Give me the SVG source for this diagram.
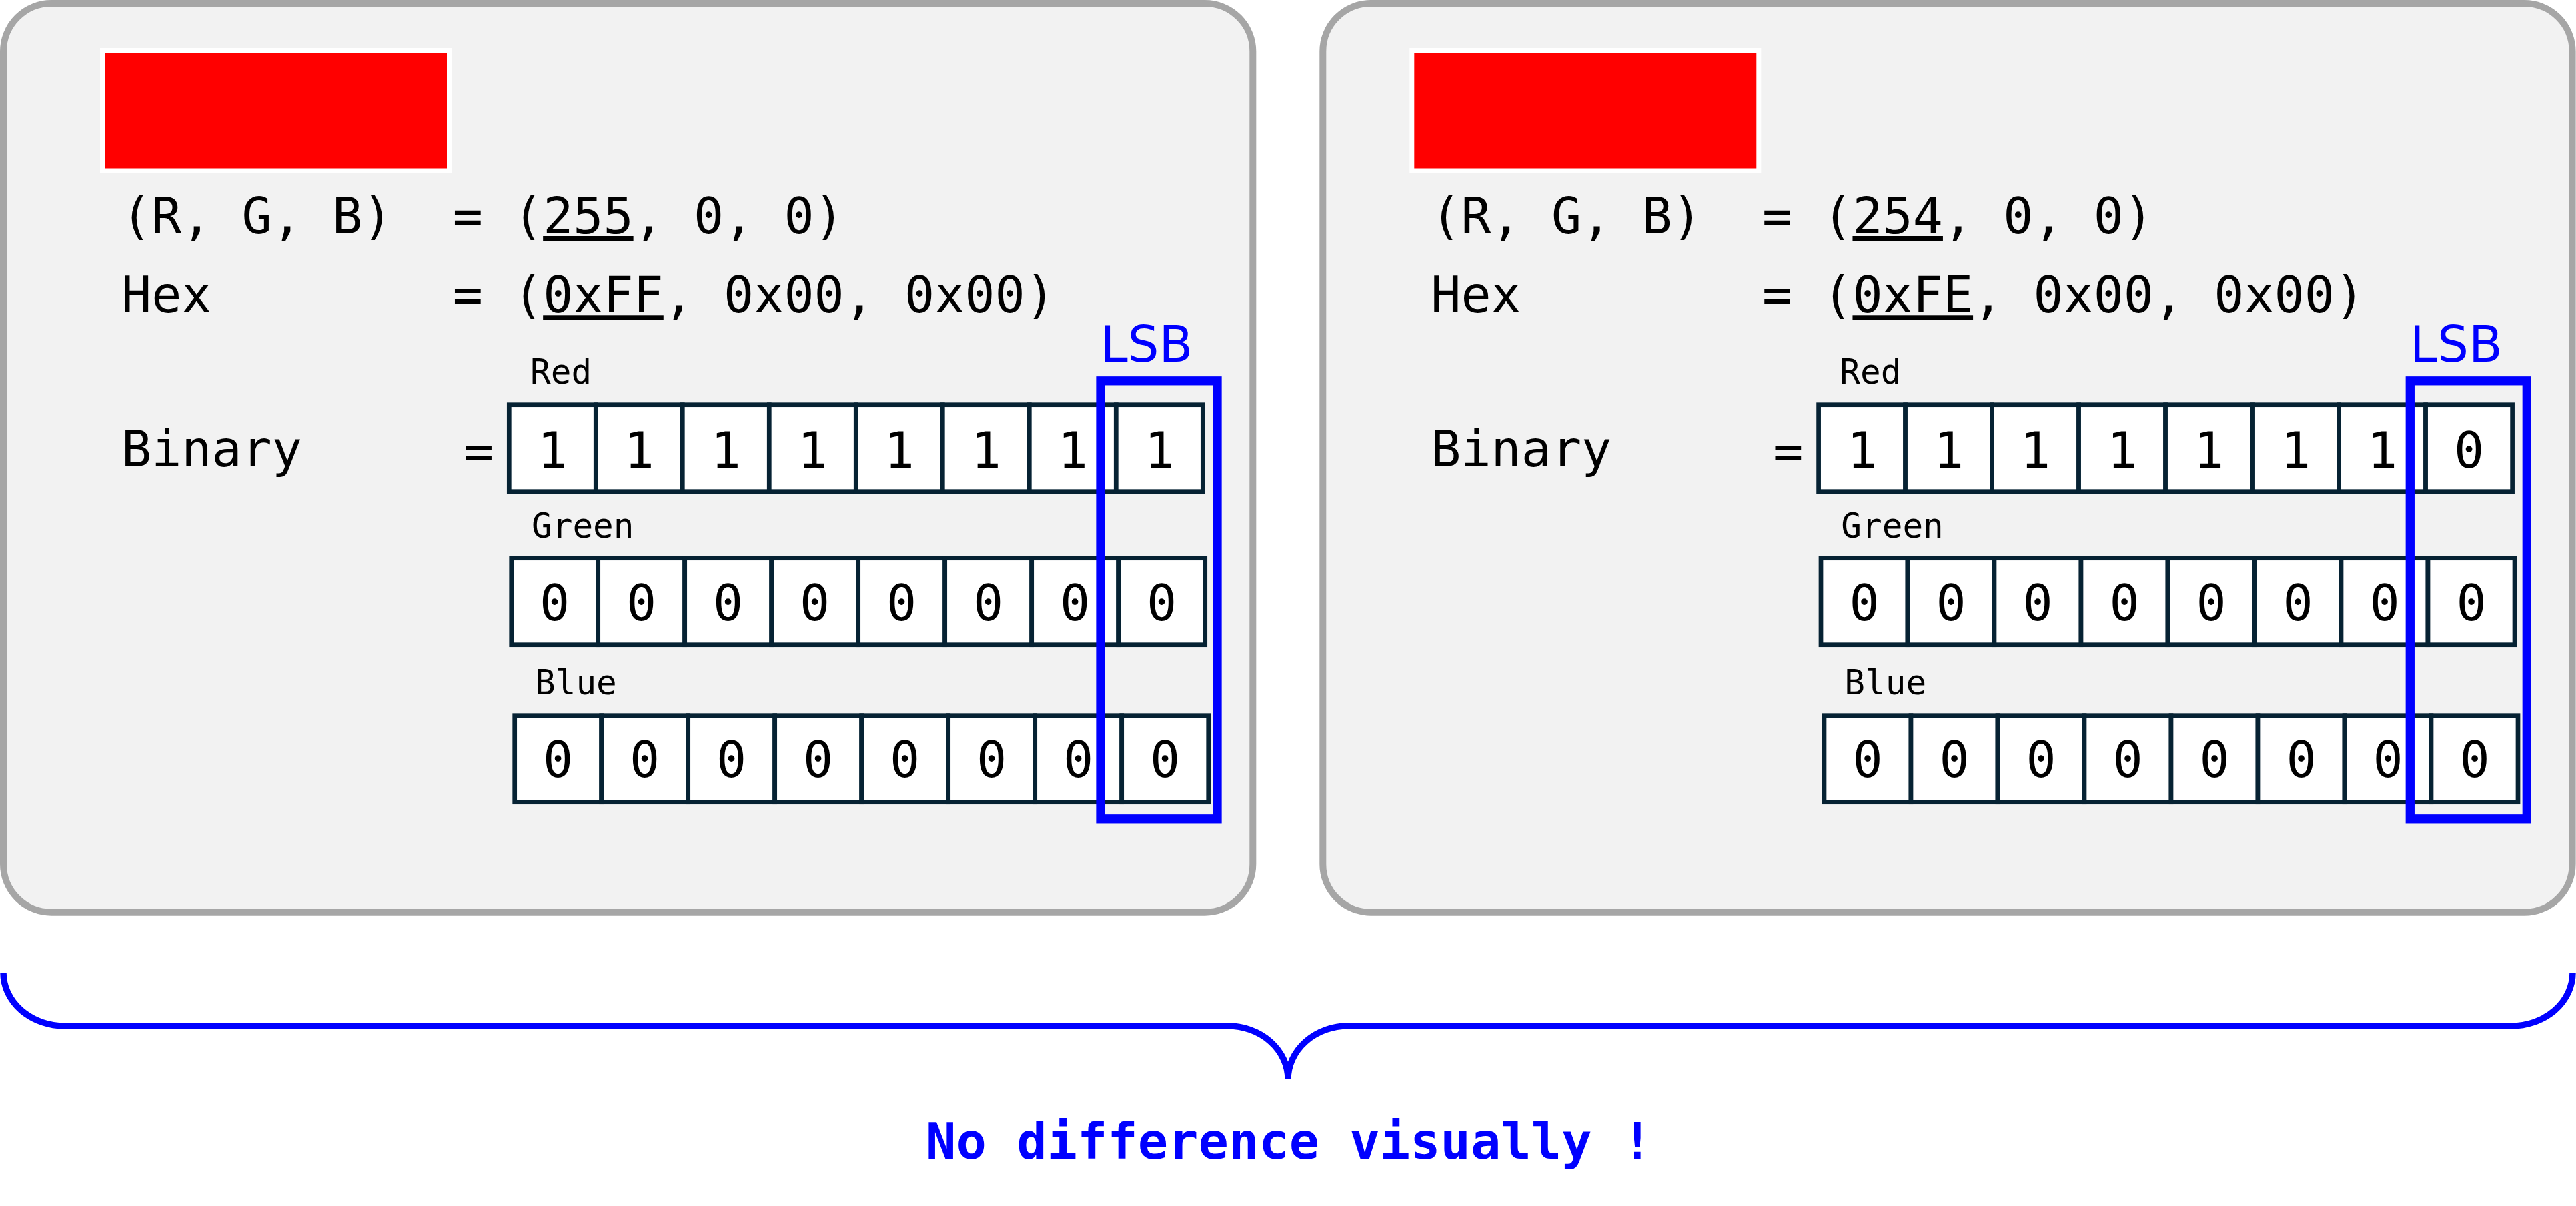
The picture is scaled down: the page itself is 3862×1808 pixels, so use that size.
<svg xmlns="http://www.w3.org/2000/svg" width="3862" height="1808" viewBox="0 0 3862 1808">
<style>
.panel{fill:#f2f2f2;stroke:#a6a6a6;stroke-width:10}
.swatch{fill:#ff0000;stroke:#ffffff;stroke-width:7}
.mono{font-family:"DejaVu Sans Mono","Liberation Mono",monospace;font-size:75px;fill:#000000}
.lbl{font-family:"DejaVu Sans Mono","Liberation Mono",monospace;font-size:51px;fill:#000000}
.u{text-decoration:underline}
.cell{fill:#ffffff;stroke:#062233;stroke-width:6.7}
.bit{font-family:"DejaVu Sans Mono","Liberation Mono",monospace;font-size:75px;fill:#000000;text-anchor:middle}
.lsb{fill:none;stroke:#0000ff;stroke-width:13.3}
.lsbt{font-family:"DejaVu Sans","Liberation Sans",sans-serif;font-size:74px;fill:#0000ff}
.brace{fill:none;stroke:#0000ff;stroke-width:9.5}
.note{font-family:"DejaVu Sans Mono","Liberation Mono",monospace;font-size:75.4px;font-weight:bold;fill:#0000ff}
</style>
<defs>
<g id="row">
<rect class="cell" x="0" y="0" width="130" height="130"/>
<rect class="cell" x="130" y="0" width="130" height="130"/>
<rect class="cell" x="260" y="0" width="130" height="130"/>
<rect class="cell" x="390" y="0" width="130" height="130"/>
<rect class="cell" x="520" y="0" width="130" height="130"/>
<rect class="cell" x="650" y="0" width="130" height="130"/>
<rect class="cell" x="780" y="0" width="130" height="130"/>
<rect class="cell" x="910" y="0" width="130" height="130"/>
</g>
</defs>

<g id="panel-left">
<rect class="panel" x="5" y="5" width="1873.3" height="1362.7" rx="72" ry="72"/>
<rect class="swatch" x="153.5" y="75.5" width="520" height="180.5"/>
<text class="mono" x="182" y="350">(R, G, B)<tspan x="678.7">= (<tspan class="u">255</tspan>, 0, 0)</tspan></text>
<text class="mono" x="182" y="468.3">Hex<tspan x="678.7">= (<tspan class="u">0xFF</tspan>, 0x00, 0x00)</tspan></text>
<text class="mono" x="182" y="699">Binary</text>
<text class="mono" x="695" y="703">=</text>
<text class="lbl" x="795" y="575">Red</text>
<text class="lbl" x="797" y="806">Green</text>
<text class="lbl" x="802" y="1040.7">Blue</text>
<use href="#row" x="763.3" y="606.7"/>
<use href="#row" x="766.7" y="836.7"/>
<use href="#row" x="771.7" y="1072.7"/>
<g class="bit">
<text x="828.3" y="701">1</text><text x="958.3" y="701">1</text><text x="1088.3" y="701">1</text><text x="1218.3" y="701">1</text><text x="1348.3" y="701">1</text><text x="1478.3" y="701">1</text><text x="1608.3" y="701">1</text><text x="1738.3" y="701">1</text>
<text x="831.7" y="930">0</text><text x="961.7" y="930">0</text><text x="1091.7" y="930">0</text><text x="1221.7" y="930">0</text><text x="1351.7" y="930">0</text><text x="1481.7" y="930">0</text><text x="1611.7" y="930">0</text><text x="1741.7" y="930">0</text>
<text x="836.7" y="1165">0</text><text x="966.7" y="1165">0</text><text x="1096.7" y="1165">0</text><text x="1226.7" y="1165">0</text><text x="1356.7" y="1165">0</text><text x="1486.7" y="1165">0</text><text x="1616.7" y="1165">0</text><text x="1746.7" y="1165">0</text>
</g>
<rect class="lsb" x="1650" y="570.8" width="175" height="657"/>
<text class="lsbt" x="1649.4" y="542.3">LSB</text>
</g>

<g id="panel-right">
<rect class="panel" x="1983.3" y="5" width="1873.3" height="1362.7" rx="72" ry="72"/>
<g transform="translate(1963.3,0)">
<rect class="swatch" x="153.5" y="75.5" width="520" height="180.5"/>
<text class="mono" x="182" y="350">(R, G, B)<tspan x="678.7">= (<tspan class="u">254</tspan>, 0, 0)</tspan></text>
<text class="mono" x="182" y="468.3">Hex<tspan x="678.7">= (<tspan class="u">0xFE</tspan>, 0x00, 0x00)</tspan></text>
<text class="mono" x="182" y="699">Binary</text>
<text class="mono" x="695" y="703">=</text>
<text class="lbl" x="795" y="575">Red</text>
<text class="lbl" x="797" y="806">Green</text>
<text class="lbl" x="802" y="1040.7">Blue</text>
<use href="#row" x="763.3" y="606.7"/>
<use href="#row" x="766.7" y="836.7"/>
<use href="#row" x="771.7" y="1072.7"/>
<g class="bit">
<text x="828.3" y="701">1</text><text x="958.3" y="701">1</text><text x="1088.3" y="701">1</text><text x="1218.3" y="701">1</text><text x="1348.3" y="701">1</text><text x="1478.3" y="701">1</text><text x="1608.3" y="701">1</text><text x="1738.3" y="701">0</text>
<text x="831.7" y="930">0</text><text x="961.7" y="930">0</text><text x="1091.7" y="930">0</text><text x="1221.7" y="930">0</text><text x="1351.7" y="930">0</text><text x="1481.7" y="930">0</text><text x="1611.7" y="930">0</text><text x="1741.7" y="930">0</text>
<text x="836.7" y="1165">0</text><text x="966.7" y="1165">0</text><text x="1096.7" y="1165">0</text><text x="1226.7" y="1165">0</text><text x="1356.7" y="1165">0</text><text x="1486.7" y="1165">0</text><text x="1616.7" y="1165">0</text><text x="1746.7" y="1165">0</text>
</g>
<rect class="lsb" x="1650" y="570.8" width="175" height="657"/>
<text class="lsbt" x="1649.4" y="542.3">LSB</text>
</g>
</g>

<g id="connectors">
<path class="brace" d="M5,1458 A92,80 0 0 0 97,1538 L1841,1538 A90,80 0 0 1 1931,1618 A90,80 0 0 1 2021,1538 L3765,1538 A92,80 0 0 0 3857,1458"/>
</g>

<g id="caption">
<text class="note" x="1388" y="1736.7">No difference visually !</text>
</g>
</svg>
